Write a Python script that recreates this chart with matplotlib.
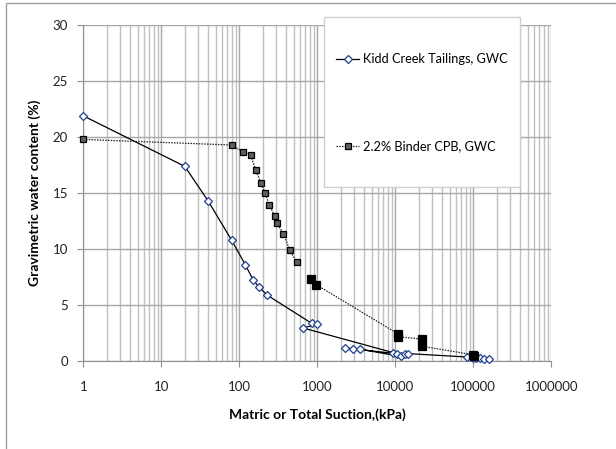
import matplotlib
matplotlib.use('Agg')
import matplotlib.pyplot as plt
from matplotlib.patches import Rectangle
from matplotlib.ticker import LogLocator, NullFormatter, FixedLocator

plt.rcParams['font.family'] = ['Lato', 'DejaVu Sans']

# Kidd Creek tailings (order as plotted)
kidd_x = [1, 20, 40, 80, 120, 150, 180, 230, 850, 1000, 650, 9300, 10400,
          2270, 2900, 3530, 11700, 13300, 14700, 84000, 100000, 110000,
          122000, 138000, 159000]
kidd_y = [21.9, 17.4, 14.3, 10.8, 8.6, 7.3, 6.6, 5.9, 3.4, 3.3, 3.0, 0.8, 0.7,
          1.2, 1.15, 1.1, 0.45, 0.65, 0.7, 0.4, 0.35, 0.3, 0.3, 0.25, 0.2]

# 2.2% binder CPB, two segments
cpb_x1 = [1, 80, 110, 140, 162, 190, 215, 242, 284, 304, 367, 447, 544]
cpb_y1 = [19.8, 19.3, 18.7, 18.4, 17.1, 15.9, 15.0, 13.95, 13.0, 12.35, 11.4, 9.9, 8.85]
cpb_x2 = [840, 970, 10900, 11000, 22000, 22300, 100000, 102000]
cpb_y2 = [7.35, 6.85, 2.45, 2.2, 2.0, 1.35, 0.6, 0.45]

y_ticks = [0, 5, 10, 15, 20, 25, 30]
x_ticks = [1, 10, 100, 1000, 10000, 100000, 1000000]

fig = plt.figure(figsize=(6.16, 4.49), dpi=100)
ax = fig.add_axes([0.1352, 0.1949, 0.7597, 0.7494])

# chart area border
fig.patches.append(Rectangle((6/616, -0.1), 1.2, 1 - 3/449 + 0.1, transform=fig.transFigure,
                             fill=False, ec='#a0a0a0', lw=1.0))

ax.plot(kidd_x, kidd_y, color='black', lw=0.9, marker='D', ms=4,
        mfc='white', mec='#1f3f8f', mew=0.9, label='Kidd Creek Tailings, GWC',
        zorder=6, clip_on=False)
ax.plot(cpb_x1, cpb_y1, color='#222222', lw=0.9, ls=(0, (1.2, 1.0)), marker='s', ms=4.5,
        mfc='#606060', mec='black', mew=0.9, label='2.2% Binder CPB, GWC',
        zorder=6, clip_on=False)
ax.plot(cpb_x2, cpb_y2, color='#222222', lw=0.9, ls=(0, (1.2, 1.0)), marker='s', ms=5.5,
        mfc='black', mec='black', mew=0.9, zorder=6, clip_on=False)

ax.set_xscale('log')
ax.set_xlim(1, 1e6)
ax.set_ylim(0, 30)
ax.xaxis.set_major_locator(FixedLocator(x_ticks))
ax.set_xticklabels([str(v) for v in x_ticks])
ax.xaxis.set_minor_locator(LogLocator(base=10, subs=range(2, 10), numticks=20))
ax.xaxis.set_minor_formatter(NullFormatter())
ax.set_yticks(y_ticks)

ax.grid(True, which='major', color='#a8a8a8', lw=1.0)
ax.grid(True, which='minor', axis='x', color='#c0c0c0', lw=1.0)
ax.set_axisbelow(True)
for s in ['top', 'right']:
    ax.spines[s].set_visible(False)
for s in ['left', 'bottom']:
    ax.spines[s].set_color('#909090')
ax.tick_params(which='major', length=4, color='#909090', labelsize=9.5, labelcolor='#222222')
ax.tick_params(axis='y', pad=7)
ax.tick_params(axis='x', pad=10)
ax.tick_params(which='minor', length=0)

ax.set_xlabel('Matric or Total Suction,(kPa)', fontsize=10, fontweight='bold')
ax.set_ylabel('Gravimetric water content (%)', fontsize=10, fontweight='bold')
ax.xaxis.set_label_coords(0.5, -0.14)
ax.yaxis.set_label_coords(-0.09, 0.5)

# legend box
ax.add_patch(Rectangle((324/616, 1 - 187/449), 196/616, 170/449, transform=fig.transFigure,
                       fc='white', ec='#d0d0d0', lw=1.0, zorder=4, clip_on=False))
ax.legend(loc='upper left', bbox_to_anchor=(336/616, 1 - 53/449), bbox_transform=fig.transFigure,
          frameon=False, fontsize=9.2, labelspacing=5.9, handlelength=1.8,
          handletextpad=0.3, borderpad=0, borderaxespad=0)

fig.savefig('out.png', dpi=100)
